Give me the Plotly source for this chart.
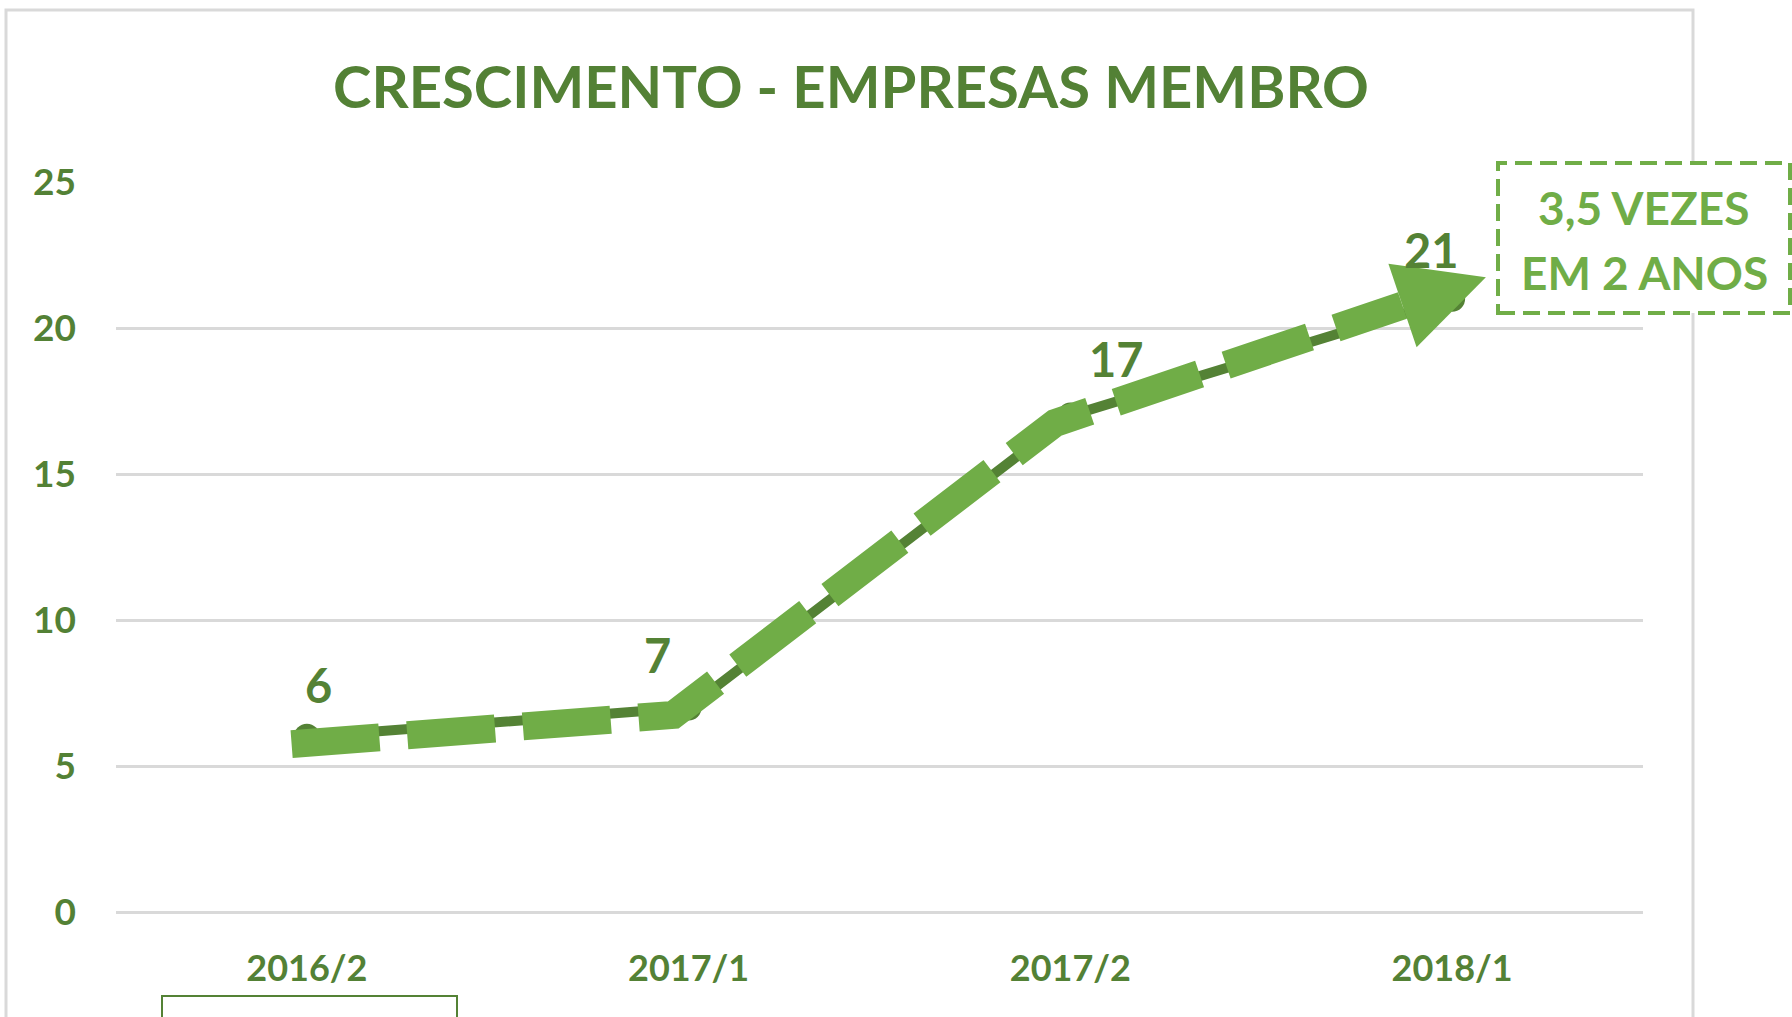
import math
import plotly.graph_objects as go

# Member companies per semester
periods = ["2016/2", "2017/1", "2017/2", "2018/1"]
companies = [6, 7, 17, 21]
y_ticks = [0, 5, 10, 15, 20, 25]

DARK = "#548235"
LIGHT = "#70AD47"
TITLE = "#538135"
GRID = "#D9D9D9"
FONT = "Lato"

W, H = 1792, 1017
L, R, T, B = 116, 149, 182, 105
PW, PH = W - L - R, H - T - B
X_RANGE = [-0.5, 3.5]
Y_RANGE = [0, 25]


def px(x):
    return (x - L) / PW


def py(y):
    return (H - B - y) / PH


# data <-> pixel helpers (used to shape the arrow head)
def d2p(x, y):
    sx = PW / (X_RANGE[1] - X_RANGE[0])
    sy = PH / (Y_RANGE[1] - Y_RANGE[0])
    return L + (x - X_RANGE[0]) * sx, T + (Y_RANGE[1] - y) * sy


def p2d(X, Y):
    sx = PW / (X_RANGE[1] - X_RANGE[0])
    sy = PH / (Y_RANGE[1] - Y_RANGE[0])
    return X_RANGE[0] + (X - L) / sx, Y_RANGE[1] - (Y - T) / sy


idx = list(range(len(periods)))

fig = go.Figure()

# Data series: solid dark line with round markers
fig.add_trace(go.Scatter(
    x=idx, y=companies, mode="lines+markers",
    line=dict(color=DARK, width=10),
    marker=dict(color=DARK, size=26),
    hoverinfo="skip", showlegend=False,
))

# Trend arrow following the series, slightly offset; the last vertex is
# the middle of the arrow head's base
ARROW_DX, ARROW_DY = -0.04, -0.25
HEAD_DX, HEAD_DY = -0.13, -0.23
HEAD_LEN, HEAD_W = 88, 88
arrow_x = [i + ARROW_DX for i in idx[:-1]] + [idx[-1] + HEAD_DX]
arrow_y = [v + ARROW_DY for v in companies[:-1]] + [companies[-1] + HEAD_DY]
fig.add_trace(go.Scatter(
    x=arrow_x, y=arrow_y, mode="lines",
    line=dict(color=LIGHT, width=28, dash="88px,28px"),
    hoverinfo="skip", showlegend=False,
))

# Arrow head: triangle pointing along the last segment
ax0, ay0 = d2p(arrow_x[-2], arrow_y[-2])
ax1, ay1 = d2p(arrow_x[-1], arrow_y[-1])
seg = math.hypot(ax1 - ax0, ay1 - ay0)
ux, uy = (ax1 - ax0) / seg, (ay1 - ay0) / seg
nx, ny = -uy, ux
head_px = [
    (ax1 + nx * HEAD_W / 2, ay1 + ny * HEAD_W / 2),
    (ax1 + ux * HEAD_LEN, ay1 + uy * HEAD_LEN),
    (ax1 - nx * HEAD_W / 2, ay1 - ny * HEAD_W / 2),
]
head_px.append(head_px[0])
head = [p2d(X, Y) for X, Y in head_px]
fig.add_trace(go.Scatter(
    x=[p[0] for p in head], y=[p[1] for p in head],
    mode="lines", fill="toself", fillcolor=LIGHT,
    line=dict(color=LIGHT, width=0),
    hoverinfo="skip", showlegend=False,
))

# Value labels
label_dx = [12, -31, 46, -21]
label_dy = [52, 53, 57, 49]
for i, v in enumerate(companies):
    fig.add_annotation(
        x=i, y=v, text=str(v), showarrow=False,
        xshift=label_dx[i], yshift=label_dy[i],
        font=dict(family=FONT, size=47, color=DARK, weight="bold"),
    )

# Outer chart frame
fig.add_shape(type="rect", xref="paper", yref="paper",
              x0=px(6), x1=px(1693), y0=py(1040), y1=py(10),
              line=dict(color=GRID, width=3), layer="below")

# Highlight callout box
fig.add_shape(type="rect", xref="paper", yref="paper",
              x0=px(1498), x1=px(1790), y0=py(313), y1=py(163),
              line=dict(color=LIGHT, width=4, dash="17px,8px"),
              fillcolor="white", layer="above")
for text, yc in [("3,5 VEZES", 208), ("EM 2 ANOS", 272)]:
    fig.add_annotation(
        x=px(1644), y=py(yc), xref="paper", yref="paper",
        text=text, showarrow=False, xanchor="center", yanchor="middle",
        font=dict(family=FONT, size=46, color=LIGHT, weight="bold"),
    )

# Small box below the chart
fig.add_shape(type="rect", xref="paper", yref="paper",
              x0=px(162), x1=px(457), y0=py(1040), y1=py(996),
              line=dict(color=DARK, width=2), layer="above")

fig.update_layout(
    width=W, height=H,
    margin=dict(l=L, r=R, t=T, b=B),
    paper_bgcolor="white", plot_bgcolor="white",
    title=dict(
        text="CRESCIMENTO - EMPRESAS MEMBRO",
        x=851 / W, xanchor="center", y=1 - 88 / H, yanchor="middle",
        font=dict(family=FONT, size=58, color=TITLE, weight="bold"),
    ),
    xaxis=dict(
        range=X_RANGE, tickvals=idx, ticktext=periods,
        showgrid=False, zeroline=False, showline=False, ticks="",
        ticklabelstandoff=32,
        tickfont=dict(family=FONT, size=36, color=TITLE, weight="bold"),
    ),
    yaxis=dict(
        range=Y_RANGE, tickvals=y_ticks,
        showgrid=True, gridcolor=GRID, gridwidth=3,
        zeroline=True, zerolinecolor=GRID, zerolinewidth=3,
        showline=False, ticks="",
        ticklabelstandoff=39,
        tickfont=dict(family=FONT, size=37, color=TITLE, weight="bold"),
    ),
)

fig.write_html("out.html")
